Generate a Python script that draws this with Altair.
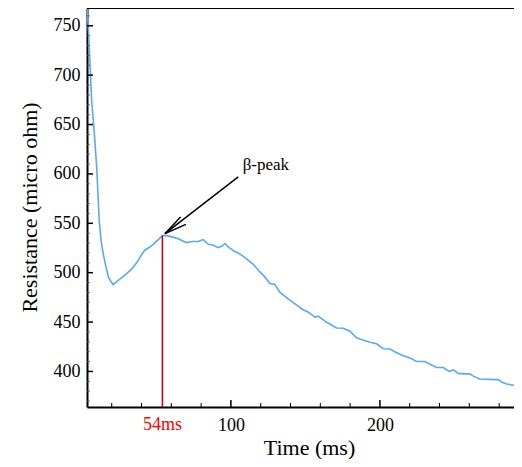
import altair as alt
import pandas as pd

# ---- data ----
time_ms = [3.5, 4.5, 6.5, 8.3, 9.9, 11.6, 12.8, 14.3, 16.1, 17.9, 19.5, 21, 25, 30, 33,
           36.7, 40, 42.3, 45.6, 48, 50.1, 52, 54, 57, 61, 65, 70, 74, 78, 81.4, 84.8,
           88, 91.5, 94, 96, 99, 102, 106, 110.5, 115, 119, 122, 126.2, 129.5, 132.9,
           138, 143, 148, 151.9, 156.4, 158.6, 164, 170.9, 175.4, 179.9, 184.3, 188,
           193.3, 197.8, 202.2, 206.7, 210, 214.6, 220.1, 224.6, 230.2, 234, 238, 242.5,
           246.5, 249.2, 252.6, 256, 260.4, 263, 267.1, 273, 279.4, 282, 285, 288,
           291.7, 295.3]
resistance = [768, 742, 675, 641, 607, 553, 533, 519, 506, 495, 491, 488, 493, 499, 503,
              510, 518, 523, 526, 529, 532, 534.5, 537.5, 537.5, 536, 534, 530.5, 531.5,
              531.5, 533.5, 528.8, 528, 525.3, 527, 529.5, 525, 522, 519, 514, 508.5,
              501.5, 497, 489, 488, 480, 474, 468.5, 463, 460, 455, 456, 450, 444, 443.7,
              440.7, 434, 432, 429.5, 428, 423, 422.8, 420, 416.7, 413.7, 410, 410, 407,
              404, 404, 400, 401.5, 398, 397.5, 397.5, 395, 392.4, 392, 391.7, 389,
              387.3, 386.5, 385.6, 387.3]

x_domain = [3.4, 290.0]
y_domain = [364, 768]
x_label_values = [100, 200]
x_tick_values = [20, 40, 60, 80, 100, 120, 140, 160, 180, 200, 220, 240, 260, 280]
x_major_ticks = [100, 200]
y_label_values = [400, 450, 500, 550, 600, 650, 700, 750]
y_minor_ticks = [v for v in range(370, 768, 10) if v % 50 != 0]

peak_time = [54]
peak_value = [537.5]
peak_label = ["54ms"]
annot_text = ["β-peak"]
annot_pos = [(107.9, 609)]
arrow_tail = (104.9, 597)
arrow_tip = (55.7, 539.5)
arrow_barbs = [(69.8, 548.9), (66.2, 556.4)]

W, H = 427, 399
FONT = "Liberation Serif"
LINE_BLUE = "#59a9f4"

xs = alt.Scale(domain=x_domain, nice=False, zero=False)
ys = alt.Scale(domain=y_domain, nice=False, zero=False)

df = pd.DataFrame({"t": time_ms, "r": resistance})

line = alt.Chart(df).mark_line(color=LINE_BLUE, strokeWidth=1.6, clip=True).encode(
    x=alt.X("t:Q", scale=xs,
            axis=alt.Axis(title="Time (ms)", values=x_label_values, format="d",
                          labelFont=FONT, labelFontSize=18,
                          labelPadding=9, titleBaseline="alphabetic", titleY=47, titleX=222,
                          titleFontSize=22, titleFontWeight="normal")),
    y=alt.Y("r:Q", scale=ys,
            axis=alt.Axis(title="Resistance (micro ohm)", values=y_label_values, format="d",
                          labelFont=FONT, labelFontSize=18,
                          labelPadding=7, titleBaseline="middle", titleX=-58, titleY=199,
                          titleAngle=-90, titleFontSize=22, titleFontWeight="normal")),
)

# tick marks pointing inward
xt = pd.DataFrame({"v": x_tick_values,
                   "len": [7 if v in x_major_ticks else 4 for v in x_tick_values]})
x_ticks_major = alt.Chart(xt[xt["len"] == 7]).mark_rule(color="black", strokeWidth=1.5).encode(
    x=alt.X("v:Q", scale=xs), y=alt.value(H), y2=alt.value(H - 7))
x_ticks_minor = alt.Chart(xt[xt["len"] == 4]).mark_rule(color="black", strokeWidth=1).encode(
    x=alt.X("v:Q", scale=xs), y=alt.value(H), y2=alt.value(H - 4))
y_ticks_major = alt.Chart(pd.DataFrame({"v": y_label_values})).mark_rule(
    color="black", strokeWidth=1.5).encode(
    y=alt.Y("v:Q", scale=ys), x=alt.value(0), x2=alt.value(6))
y_ticks_minor = alt.Chart(pd.DataFrame({"v": y_minor_ticks})).mark_rule(
    color="#555555", strokeWidth=0.8).encode(
    y=alt.Y("v:Q", scale=ys), x=alt.value(0), x2=alt.value(3))

top_border = alt.Chart(pd.DataFrame({"a": [0]})).mark_rule(color="black", strokeWidth=2).encode(
    x=alt.value(0), x2=alt.value(W), y=alt.value(0))

peak_df = pd.DataFrame({"t": peak_time, "r": peak_value, "lo": [y_domain[0]],
                        "lab": peak_label})
red_line = alt.Chart(peak_df).mark_rule(color="#cc0000", strokeWidth=1.5).encode(
    x=alt.X("t:Q", scale=xs), y=alt.Y("lo:Q", scale=ys), y2="r:Q")
red_text = alt.Chart(peak_df).mark_text(color="#ff0000", font=FONT, fontSize=18,
                                        baseline="middle", align="center").encode(
    x=alt.X("t:Q", scale=xs), y=alt.value(H + 18), text="lab:N")

arrow_df = pd.DataFrame({
    "x1": [arrow_tail[0]] + [arrow_tip[0]] * len(arrow_barbs),
    "y1": [arrow_tail[1]] + [arrow_tip[1]] * len(arrow_barbs),
    "x2": [arrow_tip[0]] + [b[0] for b in arrow_barbs],
    "y2": [arrow_tip[1]] + [b[1] for b in arrow_barbs],
})
arrow = alt.Chart(arrow_df).mark_rule(color="black", strokeWidth=1.5).encode(
    x=alt.X("x1:Q", scale=xs), y=alt.Y("y1:Q", scale=ys), x2="x2:Q", y2="y2:Q")

annot_df = pd.DataFrame({"x": [p[0] for p in annot_pos], "y": [p[1] for p in annot_pos],
                         "txt": annot_text})
annot = alt.Chart(annot_df).mark_text(font=FONT, fontSize=17, align="left",
                                      baseline="middle", color="black").encode(
    x=alt.X("x:Q", scale=xs), y=alt.Y("y:Q", scale=ys), text="txt:N")

chart = alt.layer(
    line, x_ticks_major, x_ticks_minor, y_ticks_major, y_ticks_minor, top_border,
    red_line, red_text, arrow, annot
).properties(
    width=W, height=H,
    autosize=alt.AutoSizeParams(type="none"),
    padding={"left": 79, "top": 0, "right": 0, "bottom": 52},
    background="white",
).configure_view(stroke=None).configure_axis(
    grid=False, ticks=False, tickSize=0, domainColor="black", domainWidth=2,
    labelFont=FONT, labelFontSize=18, labelColor="black",
    titleFont=FONT, titleColor="black",
)

chart.save("out.html", embed_options={"renderer": "svg", "actions": False})
